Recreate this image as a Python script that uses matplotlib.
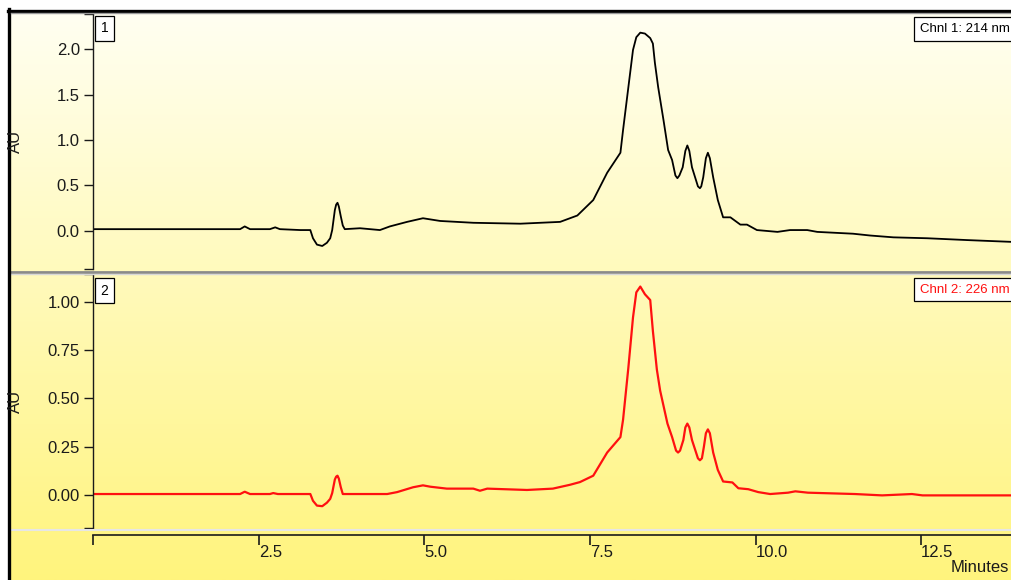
import numpy as np
import matplotlib.pyplot as plt
from matplotlib.lines import Line2D

# Channel 1 (214 nm): retention time (min) and absorbance (AU)
t1 = [0.00, 1.31, 2.22, 2.29, 2.37, 2.67, 2.75, 2.82, 3.13, 3.28, 3.32, 3.38, 3.46,
      3.53, 3.58, 3.61, 3.65, 3.67, 3.69, 3.71, 3.74, 3.77, 3.80, 4.03, 4.33, 4.48,
      4.74, 4.98, 5.24, 5.74, 6.45, 7.05, 7.31, 7.55, 7.76, 7.96, 8.00, 8.08, 8.15,
      8.20, 8.26, 8.33, 8.41, 8.45, 8.48, 8.53, 8.61, 8.68, 8.74, 8.79, 8.82, 8.85,
      8.90, 8.94, 8.97, 9.00, 9.04, 9.13, 9.16, 9.18, 9.21, 9.25, 9.28, 9.31, 9.36,
      9.43, 9.51, 9.62, 9.77, 9.87, 10.02, 10.33, 10.52, 10.78, 10.93, 11.47, 11.73,
      12.08, 12.59, 13.19, 13.87]
a1 = [0.02, 0.02, 0.02, 0.05, 0.02, 0.02, 0.04, 0.02, 0.01, 0.01, -0.08, -0.15, -0.165,
      -0.13, -0.08, 0.01, 0.23, 0.29, 0.31, 0.27, 0.16, 0.06, 0.02, 0.03, 0.01, 0.05,
      0.10, 0.14, 0.11, 0.09, 0.08, 0.10, 0.17, 0.34, 0.64, 0.86, 1.11, 1.58, 1.99,
      2.13, 2.18, 2.17, 2.12, 2.06, 1.85, 1.58, 1.22, 0.89, 0.78, 0.61, 0.58, 0.61,
      0.70, 0.88, 0.94, 0.88, 0.70, 0.49, 0.47, 0.49, 0.59, 0.80, 0.86, 0.80, 0.59,
      0.34, 0.15, 0.15, 0.07, 0.07, 0.01, -0.01, 0.01, 0.01, -0.01, -0.03, -0.05,
      -0.07, -0.08, -0.10, -0.12]

# Channel 2 (226 nm)
t2 = [0.00, 2.22, 2.29, 2.37, 2.67, 2.72, 2.79, 3.28, 3.32, 3.38, 3.46, 3.53, 3.58,
      3.61, 3.65, 3.67, 3.69, 3.71, 3.74, 3.77, 4.44, 4.59, 4.83, 4.98, 5.09, 5.34,
      5.74, 5.84, 5.95, 6.55, 6.94, 7.20, 7.35, 7.55, 7.76, 7.96, 8.00, 8.08, 8.15,
      8.20, 8.26, 8.33, 8.41, 8.45, 8.51, 8.56, 8.67, 8.74, 8.80, 8.83, 8.86, 8.91,
      8.94, 8.97, 9.00, 9.04, 9.13, 9.16, 9.19, 9.22, 9.25, 9.28, 9.31, 9.36, 9.43,
      9.51, 9.65, 9.74, 9.89, 10.04, 10.22, 10.49, 10.60, 10.79, 11.50, 11.91, 12.36,
      12.52, 13.87]
a2 = [0.005, 0.005, 0.017, 0.005, 0.005, 0.01, 0.005, 0.005, -0.03, -0.055, -0.058,
      -0.04, -0.02, 0.01, 0.08, 0.095, 0.10, 0.085, 0.04, 0.005, 0.005, 0.015, 0.04,
      0.05, 0.043, 0.033, 0.033, 0.022, 0.033, 0.026, 0.033, 0.053, 0.067, 0.10, 0.22,
      0.30, 0.39, 0.66, 0.92, 1.05, 1.08, 1.04, 1.01, 0.85, 0.65, 0.54, 0.37, 0.30,
      0.23, 0.22, 0.23, 0.285, 0.35, 0.37, 0.35, 0.285, 0.19, 0.18, 0.19, 0.25, 0.32,
      0.34, 0.32, 0.22, 0.13, 0.07, 0.065, 0.035, 0.03, 0.015, 0.005, 0.012, 0.019,
      0.012, 0.005, -0.002, 0.005, -0.002, -0.002]

x_ticks = [0, 2.5, 5.0, 7.5, 10.0, 12.5]
x_labels = ['', '2.5', '5.0', '7.5', '10.0', '12.5']
y1_ticks = [0.0, 0.5, 1.0, 1.5, 2.0]
y2_ticks = [0.0, 0.25, 0.5, 0.75, 1.0]

W, H = 1012, 580
FONT = 'Liberation Sans'
INK = '#1a1a1a'

plt.rcParams['font.family'] = [FONT, 'DejaVu Sans']

fig = plt.figure(figsize=(W / 100, H / 100), dpi=100, facecolor='white')

# background gradient (cream at top to yellow at bottom)
bg = fig.add_axes([11 / W, 0, 1 - 11 / W, 1 - 11 / H], zorder=0)
n = 256
frac = np.linspace(0, 1, n)[:, None]
top_c = np.array([255, 255, 242]) / 255
bot_c = np.array([255, 244, 125]) / 255
grad = (top_c[None, :] * (1 - frac) + bot_c[None, :] * frac)[:, None, :]
bg.imshow(grad, aspect='auto', extent=[0, 1, 0, 1], origin='upper')
bg.set_axis_off()

xmax = 13.87
left = 93 / W


def panel(top_px, bot_px, t, a, ylim, yticks, fmt, color, lw, num, chnl, num_y, chnl_y):
    hpx = bot_px - top_px
    ax = fig.add_axes([left, 1 - bot_px / H, 1 - left, hpx / H], zorder=1)
    ax.set_facecolor('none')
    ax.plot(t, a, color=color, lw=lw, solid_joinstyle='round')
    ax.set_xlim(0, xmax)
    ax.set_ylim(*ylim)
    for s in ['top', 'right', 'bottom']:
        ax.spines[s].set_visible(False)
    ax.spines['left'].set_color(INK)
    ax.spines['left'].set_linewidth(1.0)
    ax.set_xticks([])
    ax.set_yticks(yticks)
    ax.set_yticklabels([fmt.format(v) for v in yticks])
    ax.set_yticks(list(ylim), minor=True)
    ax.tick_params(axis='y', which='both', direction='out', length=6.5, width=1.0,
                   color=INK, labelsize=12, labelcolor=INK, pad=3)
    ax.text((104.5 - 93) / (W - 93), 1 - (num_y - top_px) / hpx, num,
            transform=ax.transAxes, ha='center', va='center', fontsize=10,
            color='black',
            bbox=dict(boxstyle='square,pad=0.42', fc='white', ec='black', lw=0.9))
    ax.text((920 - 93) / (W - 93), 1 - (chnl_y - top_px) / hpx, chnl,
            transform=ax.transAxes, ha='left', va='center', fontsize=9.5,
            color=color, clip_on=False,
            bbox=dict(boxstyle='square,pad=0.45', fc='white', ec='black', lw=0.9))
    fig.text(15 / W, 1 - (top_px + bot_px) / 2 / H, 'AU', rotation=90,
             ha='center', va='center', fontsize=12, color=INK)
    return ax


ax1 = panel(14, 269, t1, a1, (-0.418, 2.385), y1_ticks, '{:.1f}', 'black', 1.3,
            '1', 'Chnl 1: 214 nm', 28.5, 29)
ax2 = panel(274, 528, t2, a2, (-0.171, 1.145), y2_ticks, '{:.2f}', '#ff1010', 1.6,
            '2', 'Chnl 2: 226 nm', 290.5, 289.5)

# time axis
ax3 = fig.add_axes([left, 1 - 535 / H, 1 - left, 0.0005], zorder=1)
ax3.set_facecolor('none')
for s in ['top', 'right', 'left']:
    ax3.spines[s].set_visible(False)
ax3.spines['bottom'].set_color(INK)
ax3.spines['bottom'].set_linewidth(1.2)
ax3.set_xlim(0, xmax)
ax3.set_yticks([])
ax3.set_xticks(x_ticks)
ax3.set_xticklabels(x_labels, ha='left')
ax3.tick_params(axis='x', direction='out', length=7, width=1.2, color=INK,
                labelsize=12, labelcolor=INK, pad=0.5)
fig.text(951 / W, 1 - 568 / H, 'Minutes', ha='left', va='center', fontsize=12,
         color=INK)

# separators and outer frame
fig.add_artist(Line2D([11 / W, 1], [1 - 271.5 / H] * 2, color='#8a8a8a', lw=2.0))
fig.add_artist(Line2D([11 / W, 1], [1 - 273.5 / H] * 2, color='#d8d8d8', lw=1.0))
fig.add_artist(Line2D([11 / W, 1], [1 - 530 / H] * 2, color='#e6e6e6', lw=1.5))
fig.add_artist(Line2D([9.5 / W, 9.5 / W], [0, 1 - 9 / H], color='black', lw=2.4))
fig.add_artist(Line2D([8 / W, 1], [1 - 10.5 / H] * 2, color='black', lw=2.4))
fig.add_artist(Line2D([11 / W, 1], [1 - 12.5 / H] * 2, color='#9a9a9a', lw=1.0))

fig.savefig('out.png', dpi=100, facecolor='white')
